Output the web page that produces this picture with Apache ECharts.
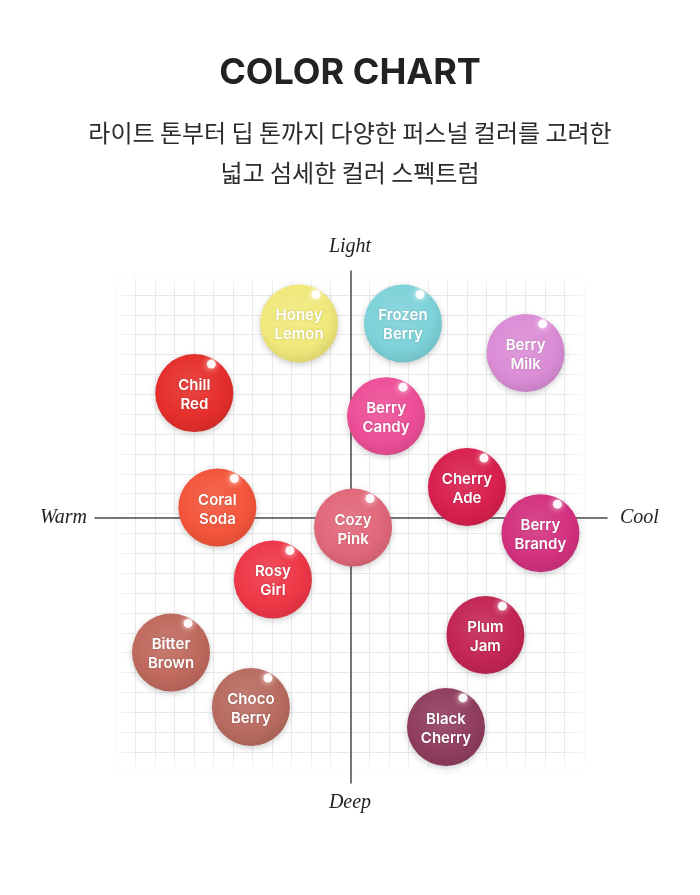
<!DOCTYPE html>
<html>
<head>
<meta charset="utf-8">
<script src="https://cdn.jsdelivr.net/npm/echarts@6/dist/echarts.min.js"></script>
<style>
html,body{margin:0;padding:0;background:#fff;}
#chart{width:700px;height:895px;}
</style>
</head>
<body>
<div id="chart"></div>
<script>
// ---- data ----
const shadeNames = ["Honey Lemon","Frozen Berry","Berry Milk","Chill Red","Berry Candy","Cherry Ade","Coral Soda","Cozy Pink","Berry Brandy","Rosy Girl","Bitter Brown","Plum Jam","Choco Berry","Black Cherry"];
// warm (-) ... cool (+)
const warmCool = [-2.03, 2.03, 6.82, -6.12, 1.37, 4.53, -5.22, 0.08, 7.40, -3.05, -7.03, 5.25, -3.91, 3.71];
// deep (-) ... light (+)
const lightDeep = [7.60, 7.60, 6.45, 4.88, 3.98, 1.21, 0.41, -0.37, -0.59, -2.40, -5.25, -4.57, -7.38, -8.16];
const shadeColors = ["#f0e87a","#7ed2d9","#da8cd5","#e52e2b","#ec4e97","#d81f4d","#f3553a","#e1677a","#d3317f","#ee3747","#bf695d","#c32553","#b86b60","#903d5e"];
const axisNames = {top:"Light", bottom:"Deep", left:"Warm", right:"Cool"};
const titleText = "COLOR CHART";
const subtitleLines = ["라이트 톤부터 딥 톤까지 다양한 퍼스널 컬러를 고려한", "넓고 섬세한 컬러 스펙트럼"];

// ---- helpers ----
function mix(hex, target, t){
  const n = parseInt(hex.slice(1),16);
  const r=(n>>16)&255, g=(n>>8)&255, b=n&255;
  const f=(a,c)=>Math.round(a+(c-a)*t);
  return 'rgb('+f(r,target[0])+','+f(g,target[1])+','+f(b,target[2])+')';
}
function bubbleFill(hex){
  return new echarts.graphic.RadialGradient(0.45,0.4,0.72,[
    {offset:0, color:mix(hex,[255,255,255],0.12)},
    {offset:0.6, color:hex},
    {offset:1, color:mix(hex,[0,0,0],0.14)}
  ]);
}

const bubbleData = shadeNames.map((n,i)=>({
  name:n,
  value:[warmCool[i], lightDeep[i]],
  itemStyle:{color:bubbleFill(shadeColors[i])}
}));
const glossData = shadeNames.map((n,i)=>({name:n, value:[warmCool[i], lightDeep[i]]}));

const chart = echarts.init(document.getElementById('chart'), null, {renderer:'canvas'});

const serifFont = {fontFamily:'Liberation Serif', fontStyle:'italic', fontSize:20, fill:'#222'};

const fadeW = 24;
function fadeRect(x,y,w,h,dir){
  const stops=[{offset:0,color:'rgba(255,255,255,1)'},{offset:1,color:'rgba(255,255,255,0)'}];
  let g;
  if(dir==='l') g=new echarts.graphic.LinearGradient(0,0,1,0,stops);
  if(dir==='r') g=new echarts.graphic.LinearGradient(1,0,0,0,stops);
  if(dir==='t') g=new echarts.graphic.LinearGradient(0,0,0,1,stops);
  if(dir==='b') g=new echarts.graphic.LinearGradient(0,1,0,0,stops);
  return {type:'rect', z:1, silent:true, shape:{x:x,y:y,width:w,height:h}, style:{fill:g}};
}

const option = {
  backgroundColor:'#fff',
  animation:false,
  grid:[
    {left:95, top:271, width:512, height:512},
    {left:116, top:275, width:468, height:497}
  ],
  xAxis:[
    {gridIndex:0, type:'value', min:-10, max:10, z:3,
     axisLine:{show:true, onZero:true, lineStyle:{color:'#4a4a4a', width:1.5}},
     axisTick:{show:false}, axisLabel:{show:false}, splitLine:{show:false}},
    {gridIndex:1, type:'value', min:0, max:24, interval:1, z:0,
     axisLine:{show:false}, axisTick:{show:false}, axisLabel:{show:false},
     splitLine:{show:true, lineStyle:{color:'#e9e9e9', width:1}}}
  ],
  yAxis:[
    {gridIndex:0, type:'value', min:-10.35, max:9.65, z:3,
     axisLine:{show:true, onZero:true, lineStyle:{color:'#4a4a4a', width:1.5}},
     axisTick:{show:false}, axisLabel:{show:false}, splitLine:{show:false}},
    {gridIndex:1, type:'value', min:0, max:25, interval:1, z:0,
     axisLine:{show:false}, axisTick:{show:false}, axisLabel:{show:false},
     splitLine:{show:true, lineStyle:{color:'#e9e9e9', width:1}}}
  ],
  graphic:[
    {type:'text', left:'center', top:55, z:10, style:{text:titleText, fontFamily:'Inter', fontWeight:700, fontSize:36, fill:'#222'}},
    {type:'text', left:'center', top:121, z:10, style:{text:subtitleLines[0], fontFamily:'Noto Sans CJK KR', fontSize:24, fill:'#2b2b2b'}},
    {type:'text', left:'center', top:161, z:10, style:{text:subtitleLines[1], fontFamily:'Noto Sans CJK KR', fontSize:24, fill:'#2b2b2b'}},
    {type:'text', x:350, y:247, z:10, style:Object.assign({text:axisNames.top, align:'center', verticalAlign:'middle'}, serifFont)},
    {type:'text', x:350, y:803, z:10, style:Object.assign({text:axisNames.bottom, align:'center', verticalAlign:'middle'}, serifFont)},
    {type:'text', x:87, y:518, z:10, style:Object.assign({text:axisNames.left, align:'right', verticalAlign:'middle'}, serifFont)},
    {type:'text', x:620, y:518, z:10, style:Object.assign({text:axisNames.right, align:'left', verticalAlign:'middle'}, serifFont)},
    fadeRect(110, 268, fadeW, 512, 'l'),
    fadeRect(584-fadeW+6, 268, fadeW, 512, 'r'),
    fadeRect(110, 270, 480, fadeW-4, 't'),
    fadeRect(110, 772-fadeW+6, 480, fadeW, 'b')
  ],
  series:[
    {
      type:'scatter', xAxisIndex:0, yAxisIndex:0, z:5,
      symbol:'circle', symbolSize:78,
      data:bubbleData,
      itemStyle:{opacity:1, shadowColor:'rgba(0,0,0,0.2)', shadowBlur:6, shadowOffsetY:2},
      label:{show:true, position:'inside', offset:[0,2],
        formatter:p=>p.name.replace(' ','\n'),
        color:'#fff', fontFamily:'Inter', fontWeight:600, fontSize:15, lineHeight:19,
        textShadowColor:'rgba(0,0,0,0.2)', textShadowBlur:2},
      emphasis:{disabled:true}
    },
    {
      type:'scatter', xAxisIndex:0, yAxisIndex:0, z:6, silent:true,
      symbol:'circle', symbolSize:9, symbolOffset:[17,-29],
      data:glossData,
      itemStyle:{opacity:1, color:'rgba(255,255,255,0.92)', shadowColor:'rgba(255,255,255,1)', shadowBlur:6},
      label:{show:false},
      emphasis:{disabled:true}
    }
  ]
};
chart.setOption(option);
</script>
</body>
</html>
